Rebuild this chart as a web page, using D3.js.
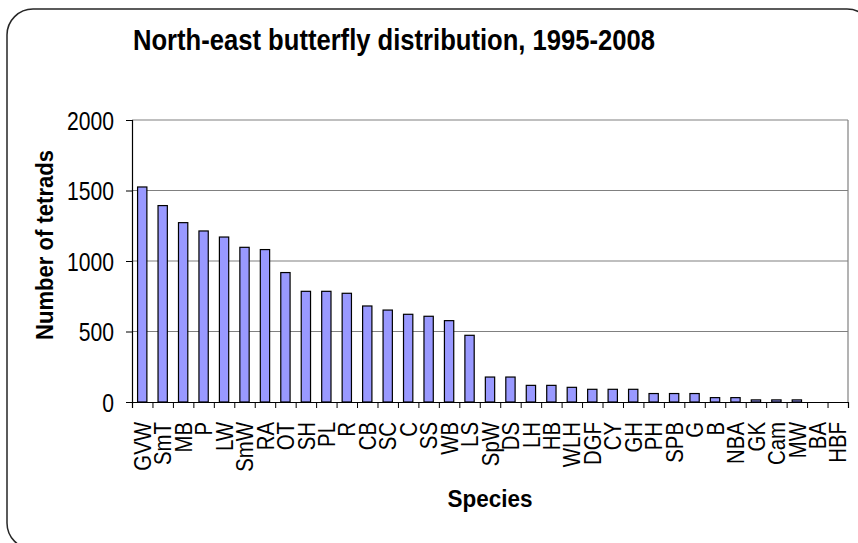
<!DOCTYPE html>
<html>
<head>
<meta charset="utf-8">
<script src="https://cdn.jsdelivr.net/npm/d3@7"></script>
<style>
  body { margin: 0; background: #fff; }
  svg { display: block; }
  text { font-family: "Liberation Sans", Arial, sans-serif; fill: #000; }
</style>
</head>
<body>
<svg id="chart" width="858" height="543"></svg>
<script>
// Species codes, in descending order of tetrads recorded
const species = ["GVW", "SmT", "MB", "P", "LW", "SmW", "RA", "OT", "SH", "PL",
  "R", "CB", "SC", "C", "SS", "WB", "LS", "SpW", "DS", "LH", "HB", "WLH", "DGF",
  "CY", "GH", "PH", "SPB", "G", "B", "NBA", "GK", "Cam", "MW", "BA", "HBF"];

// Number of tetrads in which each species was recorded
const tetrads = [1525, 1393, 1272, 1213, 1170, 1097, 1081, 918, 785, 785,
  771, 681, 652, 622, 608, 577, 473, 177, 177, 118, 118, 104, 90,
  90, 90, 60, 60, 60, 31, 31, 15, 15, 15, 0, 0];

const yTicks = [0, 500, 1000, 1500, 2000];

const chartTitle = "North-east butterfly distribution, 1995-2008";
const xTitle = "Species";
const yTitle = "Number of tetrads";

const svg = d3.select("#chart");
const plot = { left: 132, right: 848, top: 120, bottom: 402 };

// Outer chart frame with rounded corners
svg.append("rect")
  .attr("x", 7).attr("y", 9)
  .attr("width", 866).attr("height", 540)
  .attr("rx", 26).attr("ry", 26)
  .attr("fill", "none")
  .attr("stroke", "#262626")
  .attr("stroke-width", 1.5);

const x = d3.scaleBand()
  .domain(species)
  .range([plot.left, plot.right])
  .paddingInner(0.545)
  .paddingOuter(0.2725);

const y = d3.scaleLinear()
  .domain([0, 2000])
  .range([plot.bottom, plot.top]);

// Category boundaries for the tick marks between bars
const xEdge = d3.scaleLinear()
  .domain([0, species.length])
  .range([plot.left, plot.right]);

// Horizontal gridlines
svg.append("g")
  .selectAll("line")
  .data(yTicks.filter(d => d > 0))
  .join("line")
  .attr("x1", plot.left).attr("x2", plot.right)
  .attr("y1", d => y(d)).attr("y2", d => y(d))
  .attr("stroke", "#808080")
  .attr("stroke-width", 1.2);

// Plot area border (right side)
svg.append("line")
  .attr("x1", plot.right).attr("x2", plot.right)
  .attr("y1", plot.top).attr("y2", plot.bottom)
  .attr("stroke", "#808080")
  .attr("stroke-width", 1.2);

// Bars
svg.append("g")
  .selectAll("rect")
  .data(species.map((s, i) => ({ s, v: tetrads[i] })))
  .join("rect")
  .attr("x", d => x(d.s))
  .attr("width", x.bandwidth())
  .attr("y", d => y(d.v))
  .attr("height", d => y(0) - y(d.v))
  .attr("fill", "#9999ff")
  .attr("stroke", "#000")
  .attr("stroke-width", 1.2);

// Y axis
const yAxis = svg.append("g")
  .attr("transform", `translate(${plot.left},0)`)
  .call(d3.axisLeft(y).tickValues(yTicks).tickSize(6).tickFormat(d3.format("d")));
yAxis.select(".domain").attr("stroke", "#000").attr("stroke-width", 1.2);
yAxis.selectAll(".tick line").attr("stroke", "#000");
yAxis.selectAll(".tick text")
  .attr("x", 0)
  .attr("dy", "0.36em")
  .attr("transform", "translate(-18,0) scale(0.845,1)")
  .style("font-size", "25px")
  .attr("text-anchor", "end");

// X axis: tick marks at category boundaries
const xTicks = svg.append("g")
  .attr("transform", `translate(0,${plot.bottom})`)
  .call(d3.axisBottom(xEdge).tickValues(d3.range(species.length + 1)).tickSize(6).tickFormat(""));
xTicks.select(".domain").attr("stroke", "#000").attr("stroke-width", 1.2);
xTicks.selectAll(".tick line").attr("stroke", "#000");

// X axis: rotated species labels
const xLabels = svg.append("g")
  .attr("transform", `translate(0,${plot.bottom})`)
  .call(d3.axisBottom(x).tickSize(0));
xLabels.select(".domain").remove();
xLabels.selectAll(".tick text")
  .attr("x", 0).attr("y", 0)
  .attr("dy", "0.36em")
  .attr("text-anchor", "end")
  .attr("transform", "translate(0,20) rotate(-90) scale(0.85,1)")
  .style("font-size", "24px");

// Titles
svg.append("text")
  .attr("x", 394).attr("y", 50)
  .attr("text-anchor", "middle")
  .attr("textLength", 522)
  .attr("lengthAdjust", "spacingAndGlyphs")
  .style("font-size", "30px")
  .style("font-weight", "bold")
  .text(chartTitle);

svg.append("text")
  .attr("x", 490).attr("y", 507)
  .attr("text-anchor", "middle")
  .attr("textLength", 85)
  .attr("lengthAdjust", "spacingAndGlyphs")
  .style("font-size", "23px")
  .style("font-weight", "bold")
  .text(xTitle);

svg.append("text")
  .attr("transform", "translate(53,245) rotate(-90)")
  .attr("text-anchor", "middle")
  .attr("textLength", 190)
  .attr("lengthAdjust", "spacingAndGlyphs")
  .style("font-size", "24px")
  .style("font-weight", "bold")
  .text(yTitle);
</script>
</body>
</html>
